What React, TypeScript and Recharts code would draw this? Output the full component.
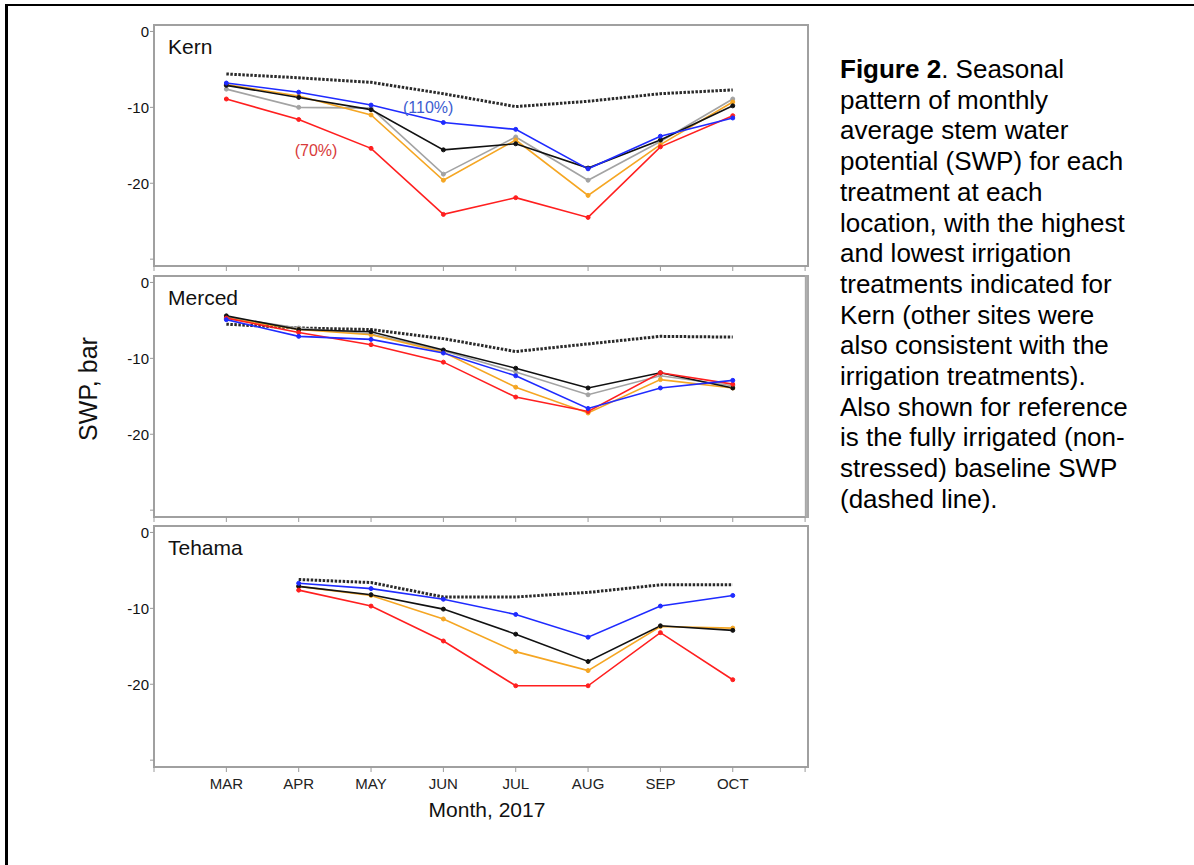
import React from 'react';
import { LineChart, Line, XAxis, YAxis, ReferenceArea, ReferenceDot } from 'recharts';

const months = ['MAR', 'APR', 'MAY', 'JUN', 'JUL', 'AUG', 'SEP', 'OCT'];
const xTicks = [-1, 0, 1, 2, 3, 4, 5, 6, 7, 8];
const yTicks = [0, -10, -20, -30];

// Kern
const kernBase = [-5.6, -6.1, -6.7, -8.2, -9.9, -9.2, -8.2, -7.7];
const kernGray = [-7.6, -10.0, -10.1, -18.8, -13.9, -19.6, -14.5, -8.9];
const kernOrange = [-7.0, -8.5, -11.0, -19.6, -14.3, -21.6, -14.9, -9.3];
const kernBlack = [-7.1, -8.7, -10.3, -15.6, -14.8, -18.0, -14.3, -9.8];
const kernRed = [-8.9, -11.6, -15.4, -24.1, -21.9, -24.5, -15.2, -11.1];
const kernBlue = [-6.8, -8.0, -9.7, -12.0, -12.9, -18.1, -13.8, -11.4];

// Merced
const mercedBase = [-5.5, -6.0, -6.2, -7.4, -9.1, -8.1, -7.1, -7.2];
const mercedGray = [-4.6, -6.0, -6.8, -9.0, -11.8, -14.8, -12.3, -13.6];
const mercedOrange = [-4.7, -6.2, -6.9, -9.2, -13.8, -17.2, -12.8, -13.9];
const mercedBlack = [-4.4, -6.2, -6.5, -8.9, -11.3, -13.9, -11.9, -13.9];
const mercedRed = [-4.7, -6.6, -8.2, -10.5, -15.1, -17.0, -11.9, -13.4];
const mercedBlue = [-4.9, -7.1, -7.5, -9.3, -12.3, -16.6, -13.9, -12.9];

// Tehama (no March reading)
const tehamaBase = [null, -6.2, -6.6, -8.5, -8.5, -7.9, -6.9, -6.9];
const tehamaOrange = [null, -7.1, -8.3, -11.4, -15.7, -18.2, -12.4, -12.6];
const tehamaBlack = [null, -7.1, -8.2, -10.1, -13.4, -17.0, -12.3, -12.9];
const tehamaRed = [null, -7.6, -9.7, -14.3, -20.2, -20.2, -13.2, -19.4];
const tehamaBlue = [null, -6.7, -7.4, -8.8, -10.8, -13.8, -9.7, -8.3];

const X_MIN = -1;
const X_MAX = 8.04;
const Y_MIN = -30.9;
const Y_MAX = 0.85;

const series = [
  { key: 'gray', color: '#a3a3a3' },
  { key: 'orange', color: '#f5a623' },
  { key: 'black', color: '#111111' },
  { key: 'red', color: '#ff1f1f' },
  { key: 'blue', color: '#1f2bff' },
];

type Cols = { [k: string]: (number | null)[] | undefined };

const buildRows = (cols: Cols) =>
  months.map((m, i) => {
    const row: { [k: string]: number | string | null } = { x: i, month: m };
    Object.keys(cols).forEach((k) => {
      const arr = cols[k];
      if (arr) row[k] = arr[i];
    });
    return row;
  });

const kernRows = buildRows({ base: kernBase, gray: kernGray, orange: kernOrange, black: kernBlack, red: kernRed, blue: kernBlue });
const mercedRows = buildRows({ base: mercedBase, gray: mercedGray, orange: mercedOrange, black: mercedBlack, red: mercedRed, blue: mercedBlue });
const tehamaRows = buildRows({ base: tehamaBase, orange: tehamaOrange, black: tehamaBlack, red: tehamaRed, blue: tehamaBlue });

const FONT = 'Arial, "Liberation Sans", Helvetica, sans-serif';

interface PanelProps {
  name: string;
  rows: any[];
  top: number;
  showMonths?: boolean;
  notes?: boolean;
  heavyRight?: boolean;
}

const Panel: React.FC<PanelProps> = ({ name, rows, top, showMonths, notes, heavyRight }) => {
  const keys = series.filter((s) => rows.some((r) => r[s.key] !== undefined));
  return (
    <div style={{ position: 'absolute', left: 0, top: top - 10 }}>
      <LineChart width={830} height={281} data={rows} margin={{ top: 10, right: 22, left: 104, bottom: 0 }}>
        <XAxis
          dataKey="x"
          type="number"
          domain={[X_MIN, X_MAX]}
          ticks={xTicks}
          interval={0}
          axisLine={false}
          tickSize={5}
          tickMargin={6}
          height={30}
          stroke="#9a9a9a"
          tick={{ fill: '#222', fontSize: 15, fontFamily: FONT }}
          tickFormatter={(v: number) => (showMonths && v >= 0 && v < months.length ? months[v] : '')}
        />
        <YAxis
          type="number"
          domain={[Y_MIN, Y_MAX]}
          ticks={yTicks}
          width={50}
          axisLine={false}
          tickSize={4}
          tickMargin={1}
          stroke="#9a9a9a"
          tick={{ fill: '#111', fontSize: 15, fontFamily: FONT }}
          tickFormatter={(v: number) => (v === -30 ? '' : String(v))}
        />
        <ReferenceArea
          x1={X_MIN}
          x2={X_MAX}
          y1={Y_MIN}
          y2={Y_MAX}
          fill="none"
          stroke="#a0a0a0"
          strokeWidth={2}
          ifOverflow="visible"
          label={{ value: name, position: 'insideTopLeft', offset: 14, fill: '#111', fontSize: 21, fontFamily: FONT }}
        />
        {heavyRight && (
          <ReferenceArea x1={X_MAX - 0.03} x2={X_MAX} y1={Y_MIN} y2={Y_MAX} fill="#a8a8a8" stroke="#a8a8a8" strokeWidth={2} ifOverflow="visible" />
        )}
        <Line
          dataKey="base"
          type="linear"
          stroke="#2a2a2a"
          strokeWidth={3}
          strokeDasharray="2.5 1.5"
          dot={false}
          isAnimationActive={false}
        />
        {keys.map((s) => (
          <Line
            key={s.key}
            dataKey={s.key}
            type="linear"
            stroke={s.color}
            strokeWidth={1.6}
            dot={{ r: 2, fill: s.color, stroke: s.color, strokeWidth: 1 }}
            isAnimationActive={false}
          />
        ))}
        {notes && (
          <ReferenceDot
            x={2.79}
            y={-9.95}
            r={0}
            fill="none"
            stroke="none"
            label={{ value: '(110%)', position: 'center', fill: '#3d5ccf', fontSize: 16, fontFamily: FONT }}
          />
        )}
        {notes && (
          <ReferenceDot
            x={1.24}
            y={-15.7}
            r={0}
            fill="none"
            stroke="none"
            label={{ value: '(70%)', position: 'center', fill: '#d83a3a', fontSize: 16, fontFamily: FONT }}
          />
        )}
      </LineChart>
    </div>
  );
};

const captionLines = [
  'pattern of monthly',
  'average stem water',
  'potential (SWP) for each',
  'treatment at each',
  'location, with the highest',
  'and lowest irrigation',
  'treatments indicated for',
  'Kern (other sites were',
  'also consistent with the',
  'irrigation treatments).',
  'Also shown for reference',
  'is the fully irrigated (non-',
  'stressed) baseline SWP',
  '(dashed line).',
];

export default function App() {
  return (
    <div
      style={{
        position: 'absolute',
        left: 0,
        top: 0,
        width: 1194,
        height: 865,
        overflow: 'hidden',
        background: '#fff',
        fontFamily: FONT,
      }}
    >
      <div
        style={{
          position: 'absolute',
          left: 5,
          top: 4,
          width: 1300,
          height: 1000,
          borderLeft: '3px solid #000',
          borderTop: '2px solid #000',
        }}
      />
      <Panel name="Kern" rows={kernRows} top={25} notes />
      <Panel name="Merced" rows={mercedRows} top={275.5} heavyRight />
      <Panel name="Tehama" rows={tehamaRows} top={526} showMonths />
      <div
        style={{
          position: 'absolute',
          left: 88,
          top: 389,
          transform: 'translate(-50%, -50%) rotate(-90deg)',
          fontSize: 25,
          color: '#111',
          whiteSpace: 'nowrap',
        }}
      >
        SWP, bar
      </div>
      <div
        style={{
          position: 'absolute',
          left: 487,
          top: 810,
          transform: 'translate(-50%, -50%)',
          fontSize: 21,
          color: '#111',
          whiteSpace: 'nowrap',
        }}
      >
        Month, 2017
      </div>
      <div
        style={{
          position: 'absolute',
          left: 840,
          top: 54,
          fontSize: 26,
          lineHeight: '30.7px',
          color: '#000',
          whiteSpace: 'nowrap',
        }}
      >
        <div>
          <b>Figure 2</b>. Seasonal
        </div>
        {captionLines.map((l) => (
          <div key={l}>{l}</div>
        ))}
      </div>
    </div>
  );
}
